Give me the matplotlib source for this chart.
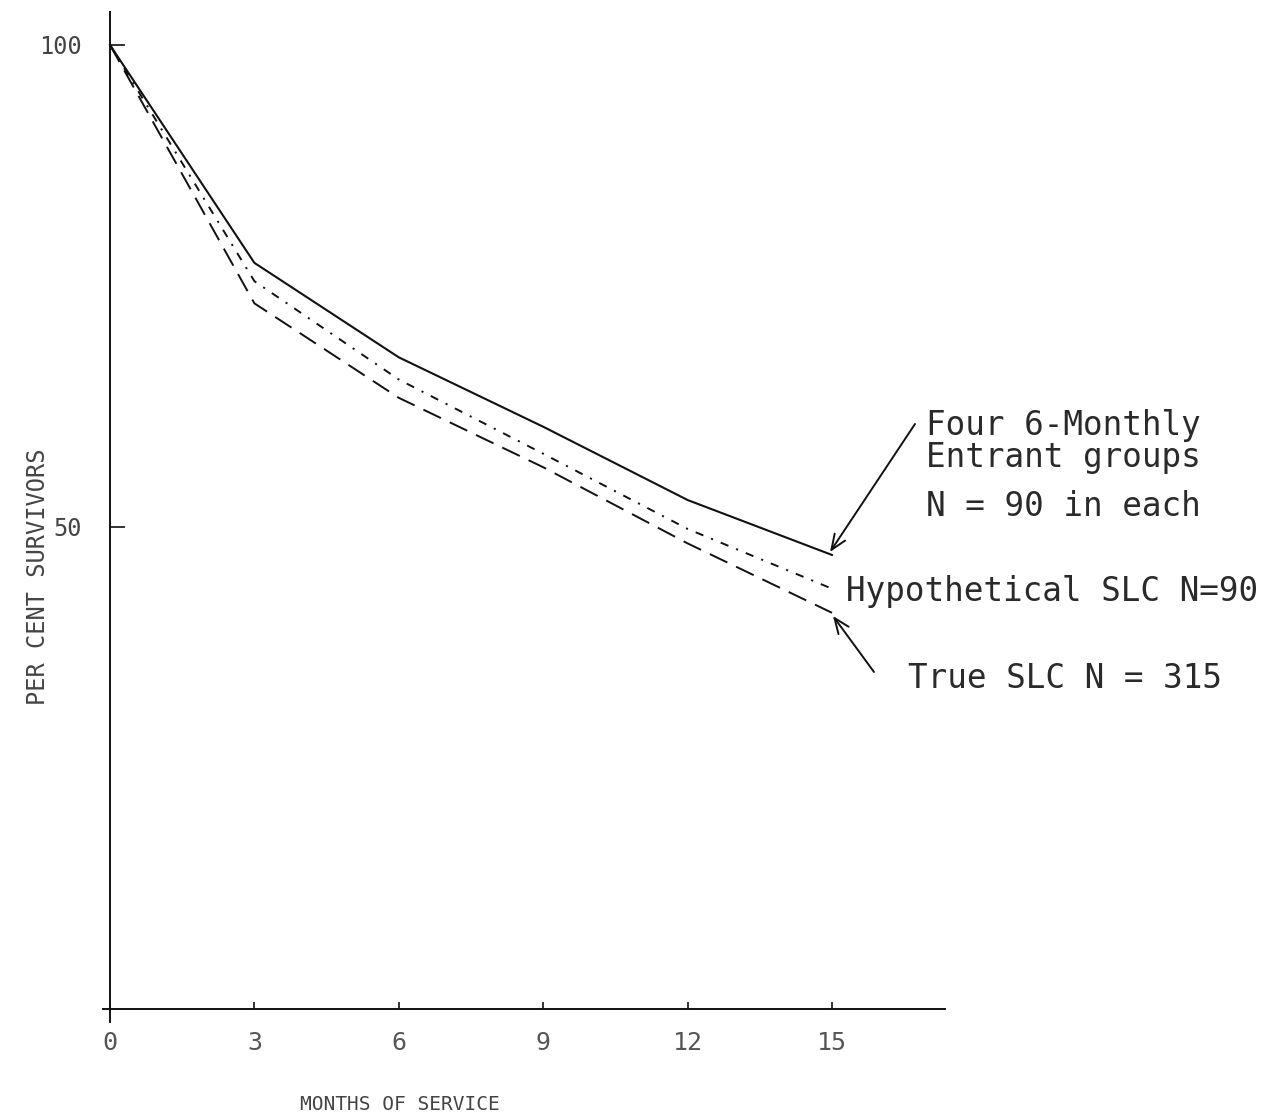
import matplotlib
matplotlib.use("Agg")
import matplotlib.pyplot as plt

plt.rcParams["font.family"] = ["DejaVu Sans Mono"]
plt.rcParams["lines.scale_dashes"] = False

# Survival curves: per cent of entrants still in service
months = [0, 3, 6, 9, 12, 15]
four_groups = [100, 77.4, 67.6, 60.4, 52.8, 47.1]
hypothetical_slc = [100, 75.5, 65.3, 57.6, 49.8, 43.6]
true_slc = [100, 73.2, 63.4, 56.2, 48.3, 41.1]

x_ticks = [0, 3, 6, 9, 12, 15]
x_tick_labels = ["0", "3", "6", "9", "12", "15"]
y_ticks = [50, 100]
y_tick_labels = ["50", "100"]

W, H = 1265, 1120
fig = plt.figure(figsize=(W / 100, H / 100), dpi=100)

# axes box in pixel terms
left_px, right_px, top_px, bottom_px = 103, 945, 12, 1022
ax = fig.add_axes([left_px / W, 1 - bottom_px / H,
                   (right_px - left_px) / W, (bottom_px - top_px) / H])

x0_px, x15_px = 110, 832
ppx = (x15_px - x0_px) / 15.0
y0_px, y100_px = 1009, 45
ppy = (y0_px - y100_px) / 100.0

ax.set_xlim((left_px - x0_px) / ppx, (right_px - x0_px) / ppx)
ax.set_ylim((y0_px - bottom_px) / ppy, (y0_px - top_px) / ppy)

for s in ("top", "right"):
    ax.spines[s].set_visible(False)
ax.spines["left"].set_position(("data", 0))
ax.spines["bottom"].set_position(("data", 0))
for s in ("left", "bottom"):
    ax.spines[s].set_linewidth(1.4)
    ax.spines[s].set_color("#111111")

ax.plot(months, four_groups, color="#111111", lw=1.5, linestyle="-")
ax.plot(months, hypothetical_slc, color="#111111", lw=1.4,
        linestyle=(0, (6, 6, 1.5, 6)))
ax.plot(months, true_slc, color="#111111", lw=1.4,
        linestyle=(0, (14, 7)))

ax.set_xticks(x_ticks)
ax.set_xticklabels(x_tick_labels)
ax.set_yticks(y_ticks)
ax.set_yticklabels(y_tick_labels)
ax.tick_params(axis="x", direction="in", length=5, width=1.2, pad=16,
               labelsize=18, labelcolor="#555555", color="#111111")
ax.tick_params(axis="y", direction="in", length=11, width=1.2, pad=20,
               labelsize=17, labelcolor="#444444", color="#111111")


def to_data(px, py):
    return ((px - x0_px) / ppx, (y0_px - py) / ppy)


txt_kw = dict(fontsize=23.5, color="#2a2a2a", va="center", ha="left",
              clip_on=False)
ax.text(*to_data(926, 426), "Four 6-Monthly", **txt_kw)
ax.text(*to_data(926, 458), "Entrant groups", **txt_kw)
ax.text(*to_data(926, 507), "N = 90 in each", **txt_kw)
ax.text(*to_data(846, 592), "Hypothetical SLC N=90", **txt_kw)
ax.text(*to_data(908, 679), "True SLC N = 315", **txt_kw)

arrow_kw = dict(arrowstyle="->,head_length=1.1,head_width=0.45",
                color="#111111", lw=1.4, shrinkA=0, shrinkB=0)
ax.annotate("", xy=to_data(830, 552), xytext=to_data(915, 424),
            arrowprops=arrow_kw, annotation_clip=False)
ax.annotate("", xy=to_data(833, 616), xytext=to_data(874, 672),
            arrowprops=arrow_kw, annotation_clip=False)

fig.text(400 / W, 1 - 1104 / H, "MONTHS OF SERVICE", fontsize=14,
         color="#444444", ha="center", va="center")
fig.text(38 / W, 1 - 577 / H, "PER CENT SURVIVORS", fontsize=17,
         color="#444444", ha="center", va="center", rotation=90)

fig.savefig("out.png", dpi=100, facecolor="white")
